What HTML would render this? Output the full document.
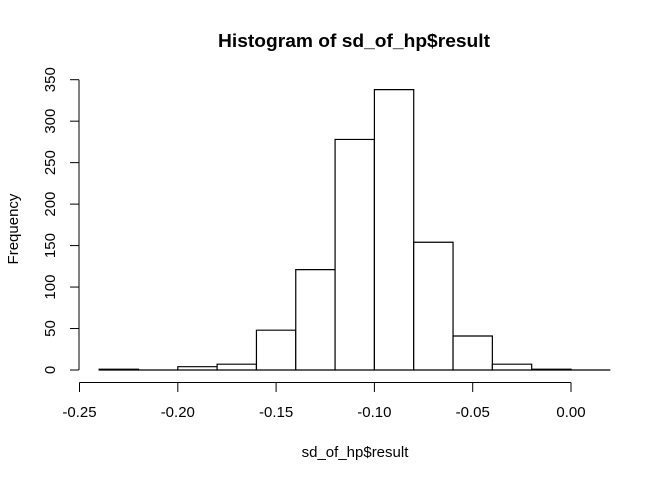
<!DOCTYPE html>
<html><head><meta charset="utf-8"><style>
body{margin:0;background:#fff}
text{font-family:"Liberation Sans",Arial,sans-serif;fill:#000}
</style></head><body>
<svg id="c" width="672" height="480" xmlns="http://www.w3.org/2000/svg">
<text x="354" y="47" text-anchor="middle" font-size="18" font-weight="bold" textLength="272" lengthAdjust="spacingAndGlyphs">Histogram of sd_of_hp$result</text>
<text x="355" y="457" text-anchor="middle" font-size="15">sd_of_hp$result</text>
<text transform="translate(18,229) rotate(-90)" text-anchor="middle" font-size="15">Frequency</text>
<g id="bars"></g><g id="xa"></g><g id="ya"></g>
</svg>
<script>
const binStarts=[-0.24,-0.22,-0.20,-0.18,-0.16,-0.14,-0.12,-0.10,-0.08,-0.06,-0.04,-0.02,0.00];
const counts=[1,0,4,7,48,121,278,338,154,41,7,1,0];
const binWidth=0.02;
const xTicks=[-0.25,-0.20,-0.15,-0.10,-0.05,0.00];
const xTickLabels=["-0.25","-0.20","-0.15","-0.10","-0.05","0.00"];
const yTicks=[0,50,100,150,200,250,300,350];
const X=v=>79.5+(v+0.25)*1966;
const Y=v=>370-v*(290.3/350);
const NS="http://www.w3.org/2000/svg";
function mk(t,a,p){const e=document.createElementNS(NS,t);for(const k in a)e.setAttribute(k,a[k]);p.appendChild(e);return e;}
const bars=document.getElementById('bars');
binStarts.forEach((s,i)=>{
 const x0=X(s),x1=X(s+binWidth),y=Y(counts[i]);
 const r=mk('path',{d:`M${x0},370V${y}H${x1}V370Z`,fill:'#fff',stroke:'#000','stroke-width':1.2},bars);
 
 
});
const xa=document.getElementById('xa');
const xl=mk('line',{x1:X(xTicks[0]),x2:X(xTicks[xTicks.length-1]),y1:382.5,y2:382.5,stroke:'#000'},xa);


xTicks.forEach((v,i)=>{
 mk('line',{x1:X(v),x2:X(v),y1:382.5,y2:392,stroke:'#000'},xa);
 const t=mk('text',{x:X(v),y:417,'text-anchor':'middle','font-size':15},xa);
 t.textContent=xTickLabels[i];
 
 
});
const ya=document.getElementById('ya');
const yl=mk('line',{x1:79,x2:79,y1:Y(yTicks[0]),y2:Y(yTicks[yTicks.length-1]),stroke:'#000'},ya);


yTicks.forEach(v=>{
 mk('line',{x1:70,x2:79,y1:Y(v),y2:Y(v),stroke:'#000'},ya);
 const t=mk('text',{transform:`translate(55,${Y(v)}) rotate(-90)`,'text-anchor':'middle','font-size':15},ya);
 t.textContent=v;
 
 
});
</script>
</body></html>
